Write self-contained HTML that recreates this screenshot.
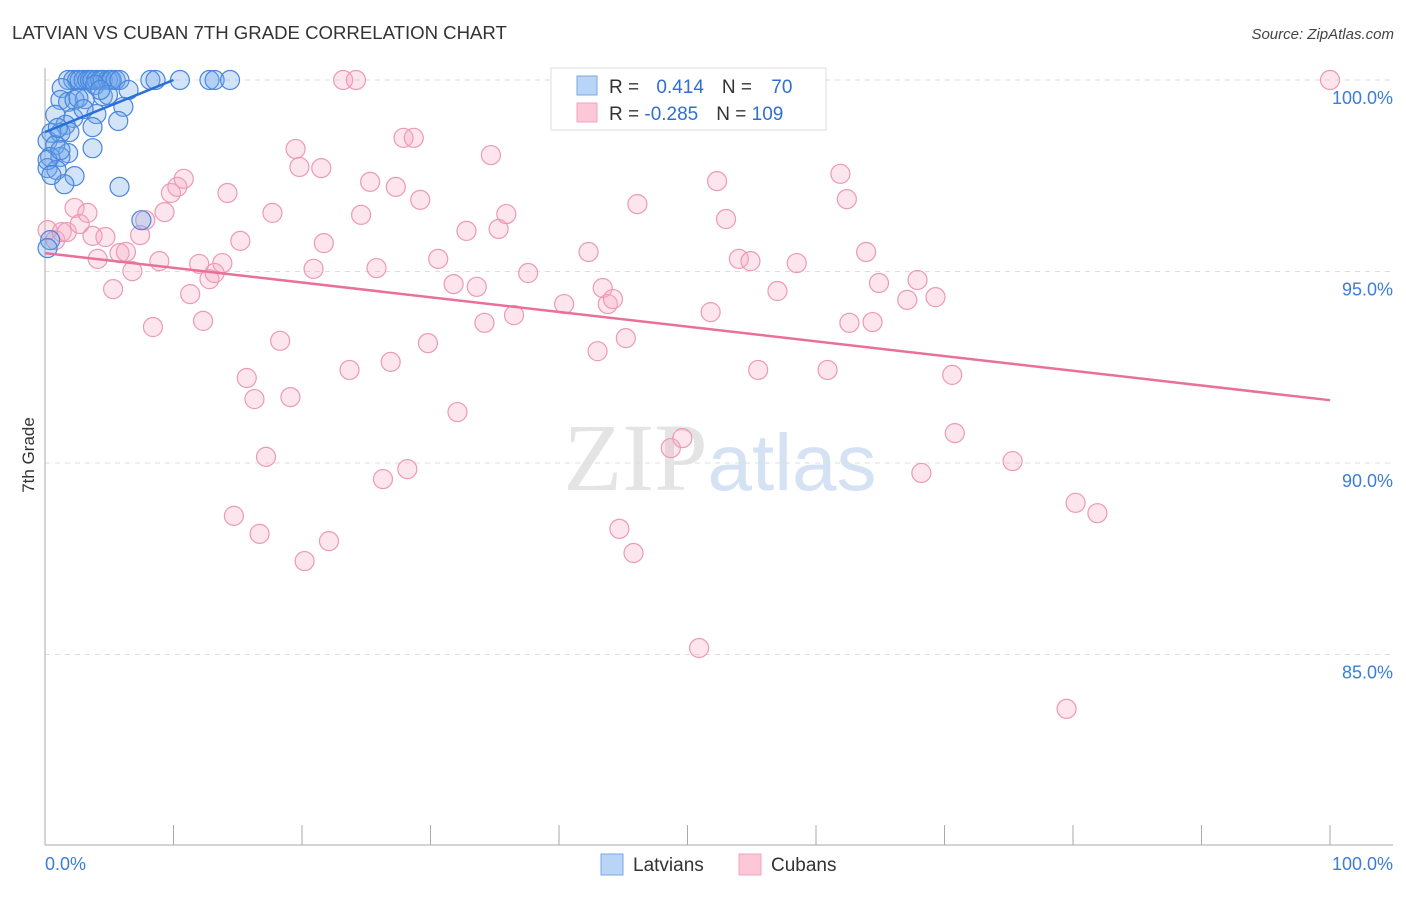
<!DOCTYPE html>
<html><head><meta charset="utf-8"><style>
body{margin:0;background:#fff;font-family:"Liberation Sans",sans-serif}
</style></head><body>
<svg id="chart" width="1406" height="892" xmlns="http://www.w3.org/2000/svg" style="font-family:'Liberation Sans',sans-serif">
<text x="12" y="39" font-size="18.6" fill="#333">LATVIAN VS CUBAN 7TH GRADE CORRELATION CHART</text>
<text x="1394" y="39" font-size="15" fill="#444" text-anchor="end" font-style="italic">Source: ZipAtlas.com</text>
<text x="720" y="490" font-size="96" text-anchor="middle" fill="#e4e4e4" font-family="Liberation Serif">ZIP<tspan fill="#d4e2f4" font-family="Liberation Sans" font-size="80">atlas</tspan></text>
<g id="grid"></g>
<g id="axes"></g>
<g id="pts"></g>
<g id="lines"></g>
<text transform="translate(34,455) rotate(-90)" font-size="17" fill="#333" text-anchor="middle">7th Grade</text>
<g>
<rect x="551" y="68" width="275" height="62" fill="#fff" stroke="#ddd"/>
<rect x="577" y="76" width="20" height="19" fill="#b8d4f6" stroke="#7aa9e6"/>
<rect x="577" y="103" width="20" height="19" fill="#fcc8d8" stroke="#f0a5bd"/>
<text x="609" y="93" font-size="19" fill="#333">R = <tspan fill="#2f6fd0" dx="12">0.414</tspan><tspan dx="18" fill="#333">N = </tspan><tspan fill="#2f6fd0" dx="14">70</tspan></text>
<text x="609" y="120" font-size="19" fill="#333">R = <tspan fill="#2f6fd0">-0.285</tspan><tspan dx="18" fill="#333">N = </tspan><tspan fill="#2f6fd0">109</tspan></text>
</g>
<g>
<rect x="601" y="854" width="22" height="21" fill="#b8d4f6" stroke="#7aa9e6"/>
<text x="633" y="871" font-size="19" fill="#333">Latvians</text>
<rect x="739" y="854" width="22" height="21" fill="#fcc8d8" stroke="#f0a5bd"/>
<text x="771" y="871" font-size="19" fill="#333">Cubans</text>
</g>
</svg>
<script>
const yTicks=[100,95,90,85];
const yTickLabels=["100.0%","95.0%","90.0%","85.0%"];
const xTickLabels=["0.0%","100.0%"];
const latX=[1.8,2.2,2.5,2.7,3.0,3.3,3.5,3.7,4.0,4.3,4.5,4.9,5.1,5.2,5.5,5.8,8.2,8.6,10.5,12.8,13.2,14.4,1.3,1.2,1.8,2.3,3.1,3.9,4.5,4.9,6.5,0.8,2.2,4.0,6.1,1.6,3.7,5.7,0.5,1.2,0.2,0.8,3.7,1.8,0.4,1.2,0.2,0.9,2.3,1.5,5.8,7.5,0.4,0.2,2.6,3.0,1.9,1.0,0.2,1.2,0.5,4.3];
const latY=[100,100,100,100,100,100,100,100,100,100,100,100,100,100,100,100,100,100,100,100,100,100,99.79,99.48,99.43,99.48,99.5,99.87,99.58,99.61,99.74,99.09,99.01,99.11,99.3,98.83,98.77,98.93,98.62,98.62,98.41,98.3,98.22,98.09,97.99,97.99,97.7,97.65,97.49,97.28,97.21,96.34,95.82,95.61,99.53,99.24,98.64,98.75,97.91,98.17,97.52,99.74];
const cubX=[0.2,0.8,1.3,1.7,2.3,2.7,3.3,3.7,4.1,4.7,5.3,5.8,6.3,6.8,7.4,7.8,8.4,8.9,9.3,9.8,10.3,10.8,11.3,12.0,12.3,12.8,13.2,13.8,14.2,14.7,15.2,15.7,16.3,16.7,17.2,17.7,18.3,19.1,19.5,19.8,20.2,20.9,21.5,21.7,22.1,23.7,23.2,24.2,24.6,25.3,25.8,26.3,26.9,27.3,27.9,28.2,28.7,29.2,29.8,30.6,31.8,32.1,32.8,33.6,34.2,34.7,35.3,35.9,36.5,37.6,40.4,42.3,43.0,43.4,43.8,44.2,44.7,45.2,45.8,46.1,48.7,49.6,50.9,51.8,52.3,53.0,54.0,54.9,55.5,57.0,58.5,60.9,61.9,62.4,62.6,63.9,64.4,64.9,67.1,67.9,68.2,69.3,70.6,70.8,75.3,79.5,80.2,81.9,100];
const cubY=[96.08,95.82,96.03,96.03,96.66,96.24,96.53,95.93,95.33,95.9,94.54,95.48,95.51,95.01,95.95,96.34,93.55,95.27,96.55,97.05,97.21,97.42,94.41,95.2,93.71,94.8,94.96,95.22,97.05,88.62,95.8,92.22,91.67,88.15,90.16,96.53,93.19,91.72,98.2,97.73,87.44,95.07,97.7,95.74,87.96,92.43,100,100,96.48,97.34,95.09,89.58,92.64,97.21,98.49,89.84,98.49,96.87,93.13,95.33,94.67,91.33,96.06,94.6,93.66,98.04,96.11,96.5,93.86,94.96,94.15,95.51,92.92,94.57,94.15,94.28,88.28,93.26,87.65,96.76,90.39,90.65,85.17,93.94,97.36,96.37,95.33,95.27,92.43,94.49,95.22,92.43,97.55,96.89,93.66,95.51,93.68,94.7,94.26,94.78,89.74,94.33,92.3,90.78,90.05,83.58,88.96,88.69,100];
const latTrend=[[0,98.64],[10,100]];
const cubTrend=[[0,95.48],[100,91.64]];
const NS="http://www.w3.org/2000/svg";
const sx=v=>45+v*12.85, sy=v=>80+(100-v)*38.3;
function mk(t,a,p){const e=document.createElementNS(NS,t);for(const k in a)e.setAttribute(k,a[k]);document.getElementById(p).appendChild(e);return e;}
yTicks.forEach((t,i)=>{
 const g=mk('line',{x1:45,x2:1393,y1:sy(t),y2:sy(t),stroke:'#ddd','stroke-dasharray':'5,5'},'grid');
 
 
 const l=mk('text',{x:1393,y:sy(t)+24,'font-size':18,fill:'#3b7dd8','text-anchor':'end'},'axes');
 l.textContent=yTickLabels[i];
 
 
});
const ax=mk('line',{x1:45,x2:45,y1:68,y2:845,stroke:'#aaa'},'axes');


const bx=mk('line',{x1:45,x2:1393,y1:845,y2:845,stroke:'#aaa'},'axes');


for(let i=0;i<=10;i++){
 const t=mk('line',{x1:sx(i*10),x2:sx(i*10),y1:825,y2:845,stroke:'#aaa'},'axes');
 
 
}
[[0,'start'],[100,'end']].forEach((d,i)=>{
 const l=mk('text',{x:i?1393:45,y:870,'font-size':18,fill:'#3b7dd8','text-anchor':d[1]},'axes');
 l.textContent=xTickLabels[i];
 
 
});
cubX.forEach((x,i)=>{
 const c=mk('circle',{cx:sx(x),cy:sy(cubY[i]),r:9.5,fill:'rgba(248,170,195,0.3)',stroke:'#ec9ab4','stroke-width':1.2},'pts');
 
 
});
latX.forEach((x,i)=>{
 const c=mk('circle',{cx:sx(x),cy:sy(latY[i]),r:9.5,fill:'rgba(110,165,235,0.3)',stroke:'#4a86db','stroke-width':1.2},'pts');
 
 
});
const l1=mk('line',{x1:sx(latTrend[0][0]),y1:sy(latTrend[0][1]),x2:sx(latTrend[1][0]),y2:sy(latTrend[1][1]),stroke:'#2a6fd6','stroke-width':2.5},'lines');


const l2=mk('line',{x1:sx(cubTrend[0][0]),y1:sy(cubTrend[0][1]),x2:sx(cubTrend[1][0]),y2:sy(cubTrend[1][1]),stroke:'#e8709a','stroke-width':2.5},'lines');


</script>
</body></html>
